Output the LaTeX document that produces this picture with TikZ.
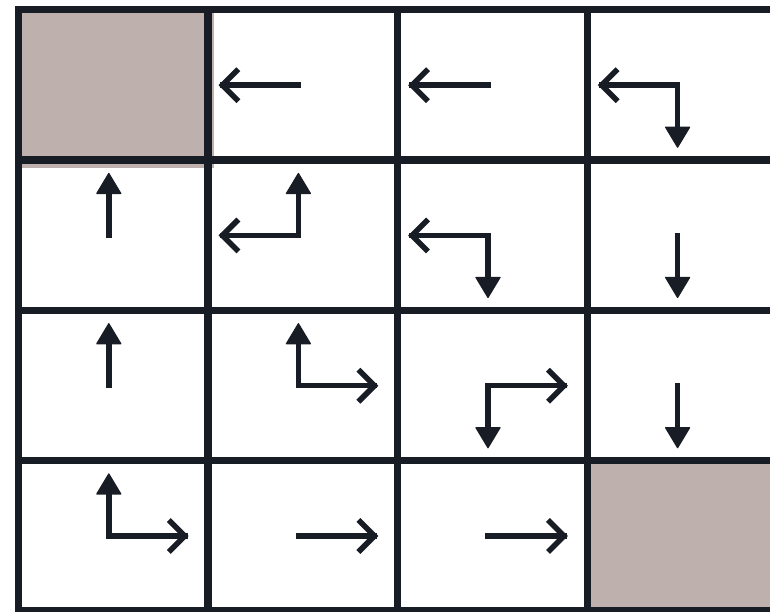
\documentclass[tikz,border=0pt]{standalone}
\usetikzlibrary{calc}
\definecolor{ink}{RGB}{24,28,36}
\definecolor{goal}{RGB}{190,176,173}
\newcommand\arL[1]{\draw[shaft] (#1) -- ++(-76,0); \draw[barb] ($(#1)+(-60,-16)$) -- ++(-16,16) -- ++(16,16);}
\newcommand\arR[1]{\draw[shaft] (#1) -- ++(76,0); \draw[barb] ($(#1)+(60,-16)$) -- ++(16,16) -- ++(-16,16);}
\newcommand\arU[1]{\draw[shaft] (#1) -- ++(0,-45); \filldraw[tri] ($(#1)+(0,-62)$) -- ++(-12,20) -- ++(24,0) -- cycle;}
\newcommand\arD[1]{\draw[shaft] (#1) -- ++(0,45); \filldraw[tri] ($(#1)+(0,62)$) -- ++(-12,-20) -- ++(24,0) -- cycle;}
\begin{document}
\begin{tikzpicture}[x=1pt,y=-1pt,
  shaft/.style={draw=ink,line width=5.5pt,line cap=rect},
  barb/.style={draw=ink,line width=5.5pt,line join=miter,line cap=butt},
  tri/.style={fill=ink,draw=ink,line width=1.2pt,line join=round},
  gridline/.style={draw=ink,line width=7.3pt,line join=miter}]
\useasboundingbox (0,0) rectangle (770,611);
\fill[white] (0,0) rectangle (770,611);
\begin{scope}
\clip (0,0) rectangle (770,611);
\fill[goal] (18.3,9.7) rectangle (213.5,167.5);
\fill[goal] (587.4,460.5) rectangle (790,630);
\draw[gridline] (18.3,9.7) rectangle (777.1,610.7);
\foreach \x in {208,397.7,587.4} \draw[gridline] (\x,9.7) -- (\x,610.7);
\foreach \y in {160,310.3,460.5} \draw[gridline] (18.3,\y) -- (777.1,\y);
\end{scope}
\foreach \r in {0,...,3}{\foreach \c in {0,...,3}{\coordinate (c\r\c) at ({108.8+189.6*\c},{85.2+150.25*\r});}}
\arL{c01} \arL{c02} \arL{c03} \arD{c03}
\arU{c10} \arL{c11} \arU{c11} \arL{c12} \arD{c12} \arD{c13}
\arU{c20} \arU{c21} \arR{c21} \arD{c22} \arR{c22} \arD{c23}
\arU{c30} \arR{c30} \arR{c31} \arR{c32}
\end{tikzpicture}
\end{document}
